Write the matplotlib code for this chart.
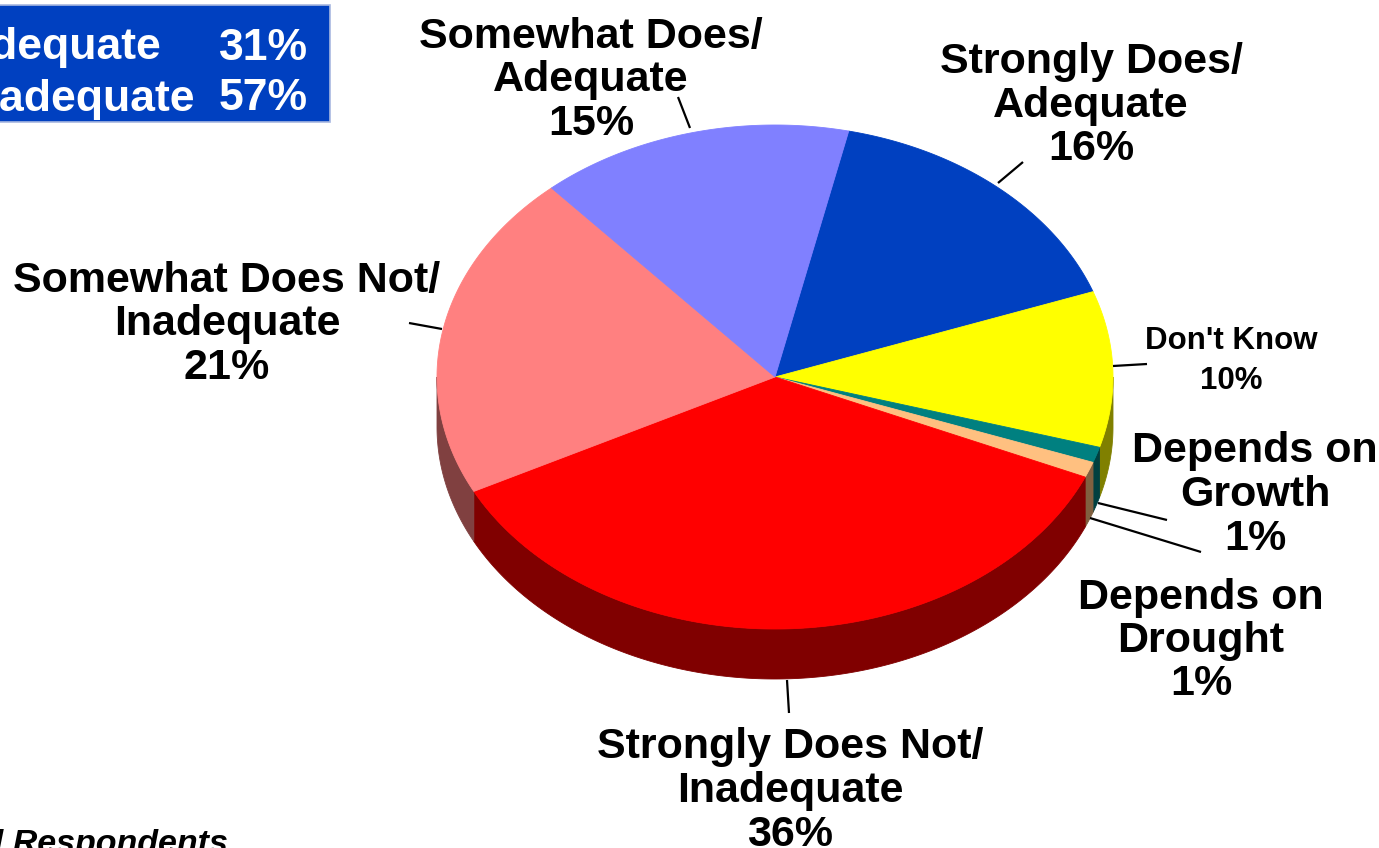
import numpy as np
import matplotlib
matplotlib.use("Agg")
import matplotlib.pyplot as plt
from matplotlib.patches import Polygon, Rectangle
from matplotlib.colors import to_rgb

plt.rcParams['font.family'] = ['Liberation Sans', 'DejaVu Sans']

# ---- data (clockwise from the start angle) ----
categories = ["Strongly Does/\nAdequate", "Don't Know", "Depends on\nGrowth",
              "Depends on\nDrought", "Strongly Does Not/\nInadequate",
              "Somewhat Does Not/\nInadequate", "Somewhat Does/\nAdequate"]
values = [16, 10, 1, 1, 36, 21, 15]
colors = ["#0040C0", "#FFFF00", "#008080", "#FFC080", "#FF0000", "#FF8080", "#8080FF"]
summary_labels = ["Total Adequate", "Total Inadequate"]
summary_values = ["31%", "57%"]
footnote = "Base: All Respondents"

# ---- layout (pixel coordinates) ----
W, H = 1379, 848
cx, cy, rx, ry, depth = 775, 377, 338, 252, 50
start_angle = 77.4

label_pos = [  # (x, first-line centre y, line step, fontsize)
    (1091, 62, 43.5, 31),
    (1231, 341, 40, 22.5),
    (1255, 451, 44, 31),
    (1201, 598, 43, 31),
    (790, 747, 44, 31),
    (227, 281, 43.5, 31),
    (591, 37, 43.5, 31),
]
leaders = [
    ((998, 183), (1023, 162)),
    ((1113, 366), (1147, 364)),
    ((1098, 503), (1167, 520)),
    ((1090, 518), (1201, 552)),
    ((787, 680), (789, 713)),
    ((442, 329), (409, 323)),
    ((690, 128), (678, 97)),
]

fig = plt.figure(figsize=(W / 100, H / 100), dpi=100)
ax = fig.add_axes([0, 0, 1, 1])
ax.set_xlim(0, W)
ax.set_ylim(H, 0)
ax.axis('off')


def pt(t_deg, dy=0.0):
    t = np.radians(t_deg)
    return cx + rx * np.cos(t), cy - ry * np.sin(t) + dy


total = float(sum(values))
angles = [start_angle]
for v in values:
    angles.append(angles[-1] - v / total * 360.0)

# side walls (front half only)
for i, v in enumerate(values):
    a0, a1 = angles[i], angles[i + 1]
    side = tuple(0.5 * c for c in to_rgb(colors[i]))
    for k in (-360, 0, 360):
        lo = max(a1, -180 + k)
        hi = min(a0, 0 + k)
        if hi - lo > 1e-6:
            ts = np.linspace(hi, lo, max(int((hi - lo) * 2), 2))
            top = [pt(t) for t in ts]
            bot = [pt(t, depth) for t in ts[::-1]]
            ax.add_patch(Polygon(top + bot, closed=True, facecolor=side,
                                 edgecolor=side, lw=0.6))

# top faces
for i, v in enumerate(values):
    a0, a1 = angles[i], angles[i + 1]
    ts = np.linspace(a0, a1, max(int((a0 - a1) * 2), 2))
    poly = [(cx, cy)] + [pt(t) for t in ts]
    ax.add_patch(Polygon(poly, closed=True, facecolor=colors[i],
                         edgecolor=colors[i], lw=0.6))

# labels
for i, cat in enumerate(categories):
    x, y0, step, fs = label_pos[i]
    lines = cat.split("\n") + [f"{values[i]}%"]
    for j, line in enumerate(lines):
        ax.text(x, y0 + j * step, line, ha='center', va='center',
                fontsize=fs, fontweight='bold', color='black')
    (x1, y1), (x2, y2) = leaders[i]
    ax.plot([x1, x2], [y1, y2], color='black', lw=1.6, solid_capstyle='butt')

# summary box (partially cropped at the left edge)
ax.add_patch(Rectangle((-20, 4.5), 350, 117, facecolor="#0040C0",
                       edgecolor="#A8B8E0", lw=1.2, clip_on=False))
for j, (lab, val) in enumerate(zip(summary_labels, summary_values)):
    yy = 48 + j * 51
    ax.text(-156, yy, lab, ha='left', va='center', fontsize=32,
            fontweight='bold', color='white', clip_on=False)
    ax.text(308, yy, val, ha='right', va='center', fontsize=32,
            fontweight='bold', color='white', clip_on=False)

# footnote (cropped at bottom)
ax.text(228, 853, footnote, ha='right', va='baseline', fontsize=24.5,
        fontweight='bold', fontstyle='italic', color='black', clip_on=False)

fig.savefig("out.png", dpi=100)
